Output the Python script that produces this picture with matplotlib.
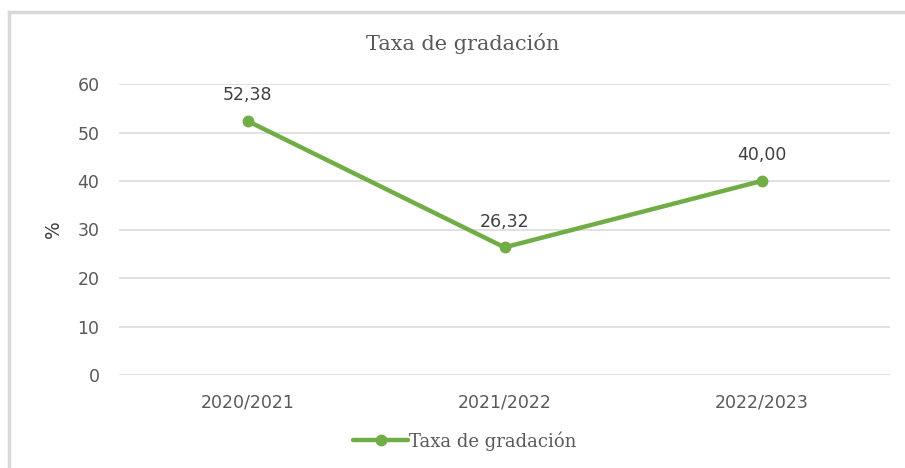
import matplotlib.pyplot as plt
from matplotlib.lines import Line2D

# Data
years = ["2020/2021", "2021/2022", "2022/2023"]
taxa = [52.38, 26.32, 40.00]
labels = ["52,38", "26,32", "40,00"]
y_ticks = [0, 10, 20, 30, 40, 50, 60]

GREEN = "#70AD47"
GRAY_TEXT = "#595959"
GRID = "#D9D9D9"

fig = plt.figure(figsize=(9.05, 4.68), dpi=100)
ax = fig.add_axes([119 / 905, 1 - 375 / 468, 771 / 905, (375 - 84) / 468])

x = list(range(len(years)))
ax.plot(x, taxa, color=GREEN, linewidth=3.2, marker="o", markersize=7.5,
        label="Taxa de gradación", solid_capstyle="round", zorder=3)

# Value labels above each point
for xi, yi, lab in zip(x, taxa, labels):
    ax.annotate(lab, (xi, yi), xytext=(0, 12), textcoords="offset points",
                ha="center", va="bottom", fontsize=12.5, color="#404040",
                family="DejaVu Sans")

ax.set_xlim(-0.5, len(years) - 0.5)
ax.set_ylim(0, 60)
ax.set_yticks(y_ticks)
ax.set_xticks(x)
ax.set_xticklabels(years)
ax.yaxis.grid(True, color=GRID, linewidth=1.1)
ax.set_axisbelow(True)
for s in ax.spines.values():
    s.set_visible(False)
ax.tick_params(length=0, colors=GRAY_TEXT, labelsize=12.5)
ax.tick_params(axis="y", pad=14)
ax.tick_params(axis="x", pad=13)
for lab in ax.get_xticklabels() + ax.get_yticklabels():
    lab.set_family("DejaVu Sans")

ax.set_ylabel("%", fontsize=13.5, color="#404040", family="DejaVu Sans")
ax.yaxis.set_label_coords(-0.072, 0.5)

fig.text(0.511, 1 - 43 / 468, "Taxa de gradación", ha="center", va="center",
         fontsize=15, color=GRAY_TEXT, family="DejaVu Serif")

fig.legend(loc="center", bbox_to_anchor=(0.514, 1 - 441 / 468), frameon=False,
           prop={"family": "DejaVu Serif", "size": 13}, labelcolor=GRAY_TEXT,
           handlelength=3.0, handletextpad=0.1)

# Light frame of the chart area (top and left edges visible in the reference)
fig.add_artist(Line2D([9 / 905, 1], [1 - 12 / 468, 1 - 12 / 468], color=GRID, linewidth=2.5,
                      transform=fig.transFigure))
fig.add_artist(Line2D([9 / 905, 9 / 905], [0, 1 - 12 / 468], color=GRID, linewidth=2.5,
                      transform=fig.transFigure))

fig.savefig("out.png", dpi=100)
